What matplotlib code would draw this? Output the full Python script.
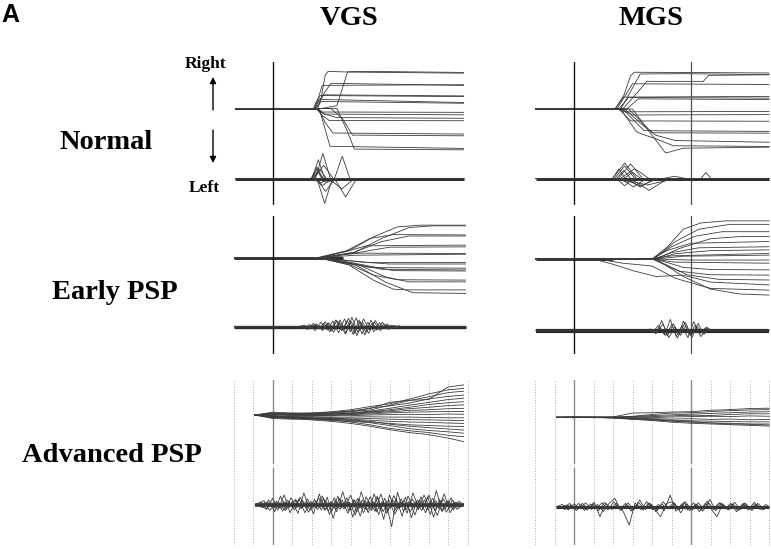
import numpy as np
import matplotlib
matplotlib.use("Agg")
import matplotlib.pyplot as plt
from matplotlib.patches import FancyArrowPatch

# ---------------------------------------------------------------- data
# Eye position traces: keypoints (time ms from target onset, horizontal position deg; + = right)
NORMAL_VGS_POS = [
    [(-190, 0), (232, 0), (250, 3.0), (270, 9.5), (285, 10.6), (400, 10.4), (980, 10.1)],
    [(-190, 0), (250, 0), (330, 0.8), (360, 6.0), (385, 10.5), (500, 10.6), (980, 10.3)],
    [(-190, 0), (215, 0), (235, 3.0), (255, 6.6), (980, 6.8)],
    [(-190, 0), (225, 0), (260, 4.0), (300, 7.2), (980, 6.6)],
    [(-190, 0), (210, 0), (225, 2.0), (245, 3.7), (980, 3.4)],
    [(-190, 0), (215, 0), (240, 2.5), (265, 3.9), (980, 3.6)],
    [(-190, 0), (215, 0), (240, 2.6), (980, 1.7)],
    [(-190, 0), (220, 0), (250, 2.0), (980, 1.5)],
    [(-190, 0), (215, 0), (250, -1.0), (980, -1.1)],
    [(-190, 0), (230, 0), (270, -1.6), (980, -1.8)],
    [(-190, 0), (225, 0), (255, -2.0), (290, -3.4), (980, -3.5)],
    [(-190, 0), (235, 0), (270, -4.0), (310, -7.0), (980, -7.3)],
    [(-190, 0), (300, 0), (360, -3.0), (410, -7.6), (980, -7.8)],
    [(-190, 0), (240, 0), (265, -5.0), (295, -10.8), (980, -11.4)],
    [(-190, 0), (330, 0), (380, -6.0), (420, -11.6), (980, -11.8)],
    [(-190, 0), (228, 0), (260, -1.5), (330, -2.6), (980, -2.8)],
]
NORMAL_MGS_POS = [
    [(-195, 0), (210, 0), (250, 3.0), (290, 9.5), (310, 10.5), (1000, 10.3)],
    [(-195, 0), (240, 0), (300, 6.0), (340, 10.0), (560, 10.1), (1000, 9.8)],
    [(-195, 0), (220, 0), (270, 4.5), (300, 7.2), (1000, 7.0)],
    [(-195, 0), (250, 0), (330, 5.0), (373, 7.9), (663, 7.9), (690, 9.6), (1000, 9.8)],
    [(-195, 0), (210, 0), (250, 3.4), (1000, 3.6)],
    [(-195, 0), (230, 0), (280, 3.3), (1000, 3.1)],
    [(-195, 0), (270, 0), (330, 2.9), (1000, 2.7)],
    [(-195, 0), (220, 0), (260, -0.8), (1000, -0.7)],
    [(-195, 0), (240, 0), (300, -1.7), (1000, -1.6)],
    [(-195, 0), (230, 0), (290, -3.4), (1000, -3.5)],
    [(-195, 0), (250, 0), (320, -4.0), (360, -6.2), (1000, -6.4)],
    [(-195, 0), (280, 0), (360, -4.5), (400, -6.8), (1000, -6.9)],
    [(-195, 0), (240, 0), (320, -6.5), (355, -7.3), (410, -8.3), (510, -10.5), (1000, -10.7)],
    [(-195, 0), (300, 0), (380, -6.0), (470, -12.6), (560, -11.2), (1000, -10.9)],
    [(-195, 0), (260, 0), (350, -4.5), (420, -7.5), (520, -9.0), (1000, -9.5)],
]
EARLY_VGS_POS = [
    [(-195, 0), (240, 0), (400, 2.2), (520, 6.0), (640, 8.8), (760, 9.3), (990, 9.3)],
    [(-195, 0), (260, 0), (420, 1.5), (560, 5.5), (700, 8.6), (820, 9.1), (990, 9.1)],
    [(-195, 0), (230, 0), (380, 2.0), (500, 5.5), (620, 6.6), (990, 6.5)],
    [(-195, 0), (250, 0), (420, 1.6), (560, 4.6), (700, 6.2), (990, 6.2)],
    [(-195, 0), (240, 0), (380, 1.8), (480, 3.4), (990, 3.6)],
    [(-195, 0), (270, 0), (430, 1.4), (600, 3.0), (990, 3.1)],
    [(-195, 0), (230, 0), (360, 0.9), (450, 1.3), (990, 1.2)],
    [(-195, 0), (250, 0), (420, 0.7), (990, 1.0)],
    [(-195, 0), (240, 0), (400, -0.9), (500, -1.4), (990, -1.4)],
    [(-195, 0), (260, 0), (450, -1.2), (600, -1.8), (990, -1.8)],
    [(-195, 0), (230, 0), (380, -1.5), (500, -2.8), (990, -3.0)],
    [(-195, 0), (250, 0), (420, -1.8), (560, -3.3), (990, -3.5)],
    [(-195, 0), (270, 0), (460, -2.0), (620, -3.7), (990, -3.8)],
    [(-195, 0), (240, 0), (400, -2.1), (520, -5.0), (640, -6.3), (990, -6.4)],
    [(-195, 0), (260, 0), (440, -2.0), (580, -5.5), (700, -6.9), (990, -6.9)],
    [(-195, 0), (230, 0), (390, -2.0), (520, -6.5), (620, -9.0), (700, -9.2), (990, -9.2)],
    [(-195, 0), (250, 0), (430, -2.2), (580, -7.0), (720, -10.0), (990, -10.2)],
]
EARLY_MGS_POS = [
    [(-195, 0), (400, 0), (480, 3.5), (560, 8.5), (650, 10.3), (780, 10.9), (1000, 10.9)],
    [(-195, 0), (410, 0), (520, 5.0), (640, 8.5), (800, 9.9), (1000, 9.9)],
    [(-195, 0), (405, 0), (500, 3.5), (620, 6.5), (760, 7.8), (1000, 7.8)],
    [(-195, 0), (420, 0), (540, 3.0), (700, 5.8), (850, 6.4), (1000, 6.4)],
    [(-195, 0), (400, 0), (480, 2.5), (600, 4.5), (1000, 5.0)],
    [(-195, 0), (410, 0), (500, 1.8), (640, 3.2), (1000, 3.5)],
    [(-195, 0), (415, 0), (520, 1.5), (700, 2.4), (1000, 2.6)],
    [(-195, 0), (400, 0), (500, 0.9), (1000, 1.6)],
    [(-195, 0), (420, 0), (560, 0.8), (1000, 1.1)],
    [(-195, 0), (410, 0), (600, -0.3), (1000, -0.3)],
    [(-195, 0), (400, 0), (520, -0.9), (1000, -1.2)],
    [(-195, 0), (420, 0), (560, -2.4), (700, -3.0), (1000, -3.1)],
    [(-195, 0), (400, 0), (540, -3.5), (700, -4.5), (1000, -4.6)],
    [(-195, 0), (410, 0), (580, -4.5), (740, -5.8), (1000, -6.0)],
    [(-195, 0), (100, 0), (200, -1.5), (300, -3.3), (420, -5.0), (560, -4.6), (700, -6.6), (1000, -7.4)],
    [(-195, 0), (120, 0), (250, -1.2), (400, -2.0), (520, -5.5), (700, -8.4), (1000, -8.9)],
    [(-195, 0), (420, 0), (560, -5.0), (700, -8.6), (850, -10.0), (1000, -10.3)],
]
# Advanced PSP position traces, sampled at these times (ms)
ADV_VGS_POS_T = [-90, 0, 100, 200, 300, 400, 500, 600, 700, 800, 900, 980]
ADV_VGS_POS = [
    [0, 0.5, 0.3, 0.4, 0.6, 1.2, 1.8, 3.6, 4.2, 4.4, 8.0, 8.6],
    [0, 0.2, 0.4, 0.6, 0.9, 1.5, 2.4, 3.2, 4.5, 6.0, 7.2, 7.6],
    [0, 0.8, 0.6, 0.5, 0.8, 1.0, 1.4, 2.8, 4.1, 5.2, 6.4, 6.8],
    [0, 0.3, 0.0, 0.2, 0.5, 0.9, 2.0, 2.6, 3.4, 4.6, 5.3, 5.7],
    [0, -0.2, 0.3, 0.4, 0.3, 0.6, 1.1, 1.9, 2.8, 3.6, 4.4, 4.8],
    [0, 0.6, 0.2, 0.1, 0.3, 0.4, 0.9, 1.5, 2.2, 3.0, 3.5, 3.8],
    [0, 0.1, -0.2, 0.0, 0.2, 0.5, 0.8, 1.2, 1.8, 2.2, 2.7, 2.9],
    [0, -0.4, -0.3, -0.2, 0.0, 0.2, 0.6, 0.9, 1.3, 1.5, 1.8, 1.9],
    [0, 0.4, 0.1, -0.1, -0.2, 0.1, 0.3, 0.6, 0.8, 0.9, 1.0, 1.0],
    [0, -0.6, -0.5, -0.4, -0.3, -0.2, 0.0, 0.1, 0.2, 0.1, 0.3, 0.2],
    [0, -0.3, -0.6, -0.8, -0.7, -0.6, -0.5, -0.6, -0.6, -0.7, -0.8, -0.8],
    [0, -0.8, -0.9, -1.0, -1.1, -0.9, -1.0, -1.2, -1.3, -1.4, -1.5, -1.6],
    [0, -0.5, -0.7, -0.8, -1.0, -1.2, -1.5, -1.8, -2.0, -2.1, -2.3, -2.4],
    [0, -1.0, -1.2, -1.1, -1.3, -1.6, -2.0, -2.4, -2.8, -3.0, -3.2, -3.3],
    [0, -0.4, -0.8, -1.0, -1.2, -1.4, -1.8, -2.6, -3.2, -3.6, -4.0, -4.3],
    [0, -0.7, -0.9, -1.2, -1.6, -1.8, -2.2, -3.0, -3.9, -4.4, -4.8, -5.2],
    [0, -0.2, -0.5, -0.9, -1.4, -2.0, -2.8, -3.8, -4.5, -5.0, -5.8, -6.2],
    [0, -0.6, -1.0, -1.4, -1.8, -2.4, -3.2, -4.2, -5.0, -5.6, -6.6, -7.6],
]
ADV_MGS_POS_T = [-90, 0, 100, 200, 300, 400, 500, 600, 700, 800, 900, 1000]
ADV_MGS_POS = [
    [0, 0.1, 0.0, 0.1, 1.2, 1.3, 1.5, 1.6, 2.0, 2.2, 2.5, 2.6],
    [0, -0.1, 0.1, 0.0, 0.3, 0.8, 1.2, 1.3, 1.6, 1.9, 2.1, 2.2],
    [0, 0.1, 0.0, 0.1, 0.2, 0.5, 0.7, 0.9, 1.1, 1.3, 1.5, 1.6],
    [0, 0.0, -0.1, 0.0, 0.1, 0.2, 0.4, 0.6, 0.5, 0.8, 1.0, 1.0],
    [0, 0.1, 0.1, 0.0, 0.0, -0.1, 0.1, 0.2, 0.3, 0.2, 0.4, 0.3],
    [0, -0.1, 0.0, 0.0, -0.2, -0.4, -0.5, -0.4, -0.6, -0.5, -0.7, -0.6],
    [0, 0.0, -0.1, -0.1, -0.3, -0.6, -0.8, -1.0, -1.1, -1.2, -1.3, -1.3],
    [0, 0.1, 0.0, -0.2, -0.4, -0.7, -1.1, -1.4, -1.6, -1.7, -1.9, -1.9],
    [0, 0.0, -0.1, -0.1, -0.5, -0.9, -1.4, -1.7, -1.9, -2.1, -2.3, -2.5],
    [0, -0.1, 0.0, -0.2, -0.6, -0.8, -1.0, -1.2, -1.6, -1.9, -2.0, -2.2],
]
EARLY_VGS_VEL_T = [150, 180, 210, 240, 270, 300, 330, 360, 390, 420, 450, 480, 510, 540, 570, 600, 630]
EARLY_VGS_VEL_SHIFT = [0, 9, 17, 24, 13]
EARLY_VGS_VEL = [
    [20, -50, 60, -40, 90, -80, 110, -60, 150, -120, 90, -100, 60, -50, 40, -30, 10],
    [-30, 40, -70, 80, -60, 100, -110, 140, -90, 160, -130, 80, -90, 70, -40, 30, -20],
    [10, -20, 50, -70, 70, -50, 120, -120, 170, -100, 140, -60, 110, -40, 50, -40, 20],
    [-20, 30, -40, 60, -90, 120, -70, 110, -140, 120, -150, 120, -60, 80, -50, 20, -10],
    [30, -40, 30, -50, 60, -100, 80, -130, 100, -160, 70, -120, 80, -70, 30, -30, 0],
]
EARLY_MGS_VEL_T = [390, 420, 450, 480, 510, 540, 570, 600, 630, 660, 690]
EARLY_MGS_VEL_SHIFT = [0, 14, 6, 21]
EARLY_MGS_VEL = [
    [30, -60, 180, -90, 120, -70, 150, -100, 80, -40, 20],
    [-20, 90, -80, 200, -110, 90, -130, 160, -60, 50, -10],
    [10, -40, 120, -130, 60, -90, 100, -120, 130, -70, 30],
    [-30, 50, -90, 110, -140, 170, -80, 90, -110, 60, -20],
]
ADV_VGS_VEL_T = list(range(-90, 961, 30))
ADV_VGS_VEL_SHIFT = [0, 11, 22, 5, 16, 27]
ADV_VGS_VEL = [
    [0, 60, -80, 120, -60, 180, -140, 90, -50, 110, -160, 200, -90, 60, -120, 240, -100, 80,
     -200, 150, -70, 130, -260, 180, -90, 110, -150, 220, -60, 90, -170, 260, -120, 80, -60, 0],
    [0, -50, 90, -120, 160, -80, 60, -150, 220, -100, 70, -90, 140, -240, 120, -60, 180, -130,
     90, -140, 200, -80, 60, -390, 230, -110, 70, -180, 150, -90, 120, -60, 200, -140, 50, 0],
    [0, 40, -30, 70, -110, 60, -90, 140, -60, 40, -80, 120, -170, 90, -50, 130, -220, 110,
     -70, 150, -120, 60, -100, 170, -60, 140, -230, 90, -70, 180, -100, 70, -130, 90, -40, 0],
    [0, -30, 50, -60, 40, -100, 130, -50, 80, -130, 100, -40, 70, -110, 160, -70, 50, -180,
     240, -90, 60, -170, 120, -60, 100, -200, 160, -50, 90, -140, 70, -190, 110, -60, 40, 0],
    [0, 80, -100, 50, -70, 90, -60, 110, -140, 70, -50, 160, -110, 130, -80, 60, -90, 120,
     -140, 60, -110, 200, -150, 90, -60, 80, -120, 60, -100, 150, -220, 100, -70, 130, -80, 0],
    [0, -70, 40, -90, 60, -40, 100, -70, 50, -60, 130, -90, 50, -70, 90, -150, 100, -60,
     70, -100, 160, -120, 90, -170, 60, -80, 110, -90, 180, -60, 80, -100, 60, -90, 70, 0],
]
ADV_MGS_VEL_T = list(range(-90, 991, 30))
ADV_MGS_VEL_SHIFT = [0, 13, 24, 7]
ADV_MGS_VEL = [
    [0, 40, -60, 50, -30, 70, -50, 40, -90, 60, 150, -70, 40, -60, 80, -40, 60, -90, 50,
     -40, 70, -60, 90, -50, 40, -80, 60, -50, 70, -40, 50, -70, 60, -40, 50, -30, 0],
    [0, -50, 30, -70, 60, -40, 80, -180, 60, -50, 40, -90, -330, 70, -50, 90, -60, 40, -70,
     210, -80, 50, -60, 70, -90, 60, -40, -180, 50, -60, 80, -50, 40, -70, 60, -40, 0],
    [0, 30, -40, 60, -70, 50, -30, 70, -60, 90, -50, 60, -80, 40, -60, 70, -50, -180, 60,
     90, -40, 80, -70, 50, -60, 100, -50, 70, -40, 60, -90, 50, -60, 80, -50, 40, 0],
    [0, -30, 60, -50, 40, -60, 50, -70, 80, -40, 60, -50, 70, -60, 120, -50, 40, -70, 90,
     -40, 60, -110, 50, -60, 70, -40, 130, -70, 60, -50, 40, -60, 70, -50, 40, -60, 0],
]
COLUMN_TITLES = ["VGS", "MGS"]
ROW_TITLES = ["Normal", "Early PSP", "Advanced PSP"]
MGS_GO_TIME = 600      # second event line in MGS panels (ms)
GRID_TIMES = list(range(-200, 1001, 100))

# ---------------------------------------------------------------- layout helpers
W, H = 771, 549
fig = plt.figure(figsize=(W / 100, H / 100), dpi=100)
fig.patch.set_facecolor("white")

PX_PER_MS = 0.195
DEG_PER_PX = 1 / 3.5
VEL_PER_PX = 18.0
VEL_PER_PX_NORMAL = 11.0
SACC_PAD_MS = 12           # smoothing of the velocity hump
XLIM = (-250, 1010)
T0_PX = {"VGS": 272.5, "MGS": 574.0}
TRACE_C = "#3c3c3c"
TRACE_LW = 0.6


def fx(x):
    return x / W


def fy(y):
    return 1 - y / H


def make_axes(col, top, bottom, zero_px, unit_per_px):
    left = T0_PX[col] + XLIM[0] * PX_PER_MS
    width = (XLIM[1] - XLIM[0]) * PX_PER_MS
    ax = fig.add_axes([fx(left), fy(bottom), width / W, (bottom - top) / H])
    ax.set_xlim(*XLIM)
    ax.set_ylim(-(bottom - zero_px) * unit_per_px, (zero_px - top) * unit_per_px)
    ax.axis("off")
    ax.patch.set_visible(False)
    return ax


def velocity_from_keypoints(pts, thr=15.0, pad=SACC_PAD_MS):
    """Saccade velocity humps (area = displacement) from position keypoints."""
    ts = [p[0] for p in pts]
    ys = [p[1] for p in pts]
    n = len(pts)
    out = [(ts[0], 0.0)]
    i = 0
    while i < n - 1:
        sp = (ys[i + 1] - ys[i]) / (ts[i + 1] - ts[i]) * 1000
        if abs(sp) > thr:
            sign = np.sign(sp)
            j = i
            while j < n - 1:
                spj = (ys[j + 1] - ys[j]) / (ts[j + 1] - ts[j]) * 1000
                if abs(spj) > thr and np.sign(spj) == sign:
                    j += 1
                else:
                    break
            ta, tb = ts[i] - pad, ts[j] + pad
            peak = 2 * (ys[j] - ys[i]) / (tb - ta) * 1000
            out += [(ta, 0.0), ((ta + tb) / 2, peak), (tb, 0.0)]
            i = j
        else:
            i += 1
    out.append((ts[-1], 0.0))
    return out


def plot_pts(ax, pts, **kw):
    ax.plot([p[0] for p in pts], [p[1] for p in pts], color=TRACE_C, lw=TRACE_LW,
            solid_joinstyle="round", **kw)


# ---------------------------------------------------------------- rows 1-2 (Normal, Early)
rows12 = [
    # col, top, bottom, pos0, vel0, pos traces, vel spec, start, end, pos band lw, vel band lw, vel scale
    ("VGS", 62, 205, 108.5, 178.5, NORMAL_VGS_POS, None, -190, 980, 1.3, 2.1, VEL_PER_PX_NORMAL),
    ("MGS", 62, 205, 109.0, 178.5, NORMAL_MGS_POS, None, -195, 1000, 1.3, 2.1, VEL_PER_PX_NORMAL),
    ("VGS", 216, 354, 257.7, 326.7, EARLY_VGS_POS, (EARLY_VGS_VEL_T, EARLY_VGS_VEL, EARLY_VGS_VEL_SHIFT),
     -195, 990, 2.0, 2.4, VEL_PER_PX),
    ("MGS", 216, 354, 259.0, 330.5, EARLY_MGS_POS, (EARLY_MGS_VEL_T, EARLY_MGS_VEL, EARLY_MGS_VEL_SHIFT),
     -195, 1000, 2.0, 3.0, VEL_PER_PX),
]
for col, top, bot, p0, v0, pos, vel, t_start, t_end, pbw, vbw, vscale in rows12:
    axp = make_axes(col, top, bot, p0, DEG_PER_PX)
    axv = make_axes(col, top, bot, v0, vscale)
    onset = min(next(p[0] for p in tr if p[1] != 0) for tr in pos)
    axp.plot([t_start, onset], [0, 0], color="#202020", lw=pbw, solid_capstyle="butt")
    for tr in pos:
        plot_pts(axp, tr)
    axv.plot([t_start, t_end], [0, 0], color="#2a2a2a", lw=vbw, solid_capstyle="butt")
    if vel is None:
        for tr in pos:
            plot_pts(axv, velocity_from_keypoints(tr))
    else:
        vt, vv, shifts = vel
        for tr, s in zip(vv, shifts):
            ts = [t + s for t in vt]
            pts = [(t_start, 0), (ts[0] - 15, 0)] + list(zip(ts, tr)) + [(ts[-1] + 15, 0), (t_end, 0)]
            plot_pts(axv, pts)
    axp.axvline(0, color="#151515", lw=1.0)
    if col == "MGS":
        axp.axvline(MGS_GO_TIME, color="#505050", lw=0.9)

# ---------------------------------------------------------------- row 3 (Advanced)
rows3 = [
    ("VGS", 415.0, 505.0, ADV_VGS_POS_T, ADV_VGS_POS, ADV_VGS_VEL_T, ADV_VGS_VEL, ADV_VGS_VEL_SHIFT, 2.6, 980),
    ("MGS", 417.3, 506.7, ADV_MGS_POS_T, ADV_MGS_POS, ADV_MGS_VEL_T, ADV_MGS_VEL, ADV_MGS_VEL_SHIFT, 2.2, 1000),
]
top, bot = 380, 545
gap_lo, gap_hi = (bot - 468) / (bot - top), (bot - 463) / (bot - top)
for col, p0, v0, pt, pos, vt, vel, shifts, vbw, t_end in rows3:
    axp = make_axes(col, top, bot, p0, DEG_PER_PX)
    axv = make_axes(col, top, bot, v0, VEL_PER_PX)
    for g in GRID_TIMES:
        axp.axvline(g, color="#b4b4b4", lw=0.7, ls=(0, (1.2, 1.6)))
    events = [0] if col == "VGS" else [0, MGS_GO_TIME]
    for e in events:
        axp.axvline(e, ymin=0, ymax=gap_lo, color="#8a8a8a", lw=1.0)
        axp.axvline(e, ymin=gap_hi, ymax=1, color="#8a8a8a", lw=1.0)
    for tr in pos:
        axp.plot(pt, tr, color=TRACE_C, lw=TRACE_LW)
    axv.plot([vt[0], t_end], [0, 0], color="#333333", lw=vbw, solid_capstyle="butt")
    for tr, s in zip(vel, shifts):
        ts = [min(t + s, t_end) for t in vt]
        axv.plot(ts, tr, color=TRACE_C, lw=TRACE_LW)

# ---------------------------------------------------------------- text
SERIF = ["Liberation Serif", "DejaVu Serif"]
fig.text(fx(1), fy(22), "A", fontsize=18, fontweight="bold", family=["Liberation Sans", "DejaVu Sans"],
         ha="left", va="baseline")
for title, xc in zip(COLUMN_TITLES, [349, 651]):
    fig.text(fx(xc), fy(25), title, fontsize=20.5, fontweight="bold", family=SERIF,
             ha="center", va="baseline")
for title, xc, yb in zip(ROW_TITLES, [106, 115, 112], [149, 299, 462]):
    fig.text(fx(xc), fy(yb), title, fontsize=20.5, fontweight="bold", family=SERIF,
             ha="center", va="baseline")
fig.text(fx(206), fy(68), "Right", fontsize=12.5, fontweight="bold", family=SERIF,
         ha="center", va="baseline")
fig.text(fx(204), fy(191.5), "Left", fontsize=12.5, fontweight="bold", family=SERIF,
         ha="center", va="baseline")
for y_from, y_to in [(110, 77), (130, 163)]:
    fig.add_artist(FancyArrowPatch((fx(213), fy(y_from)), (fx(213), fy(y_to)),
                                   transform=fig.transFigure, arrowstyle="-|>",
                                   mutation_scale=9, lw=1.0, color="black",
                                   shrinkA=0, shrinkB=0))

fig.savefig("out.png", dpi=100, facecolor="white")
